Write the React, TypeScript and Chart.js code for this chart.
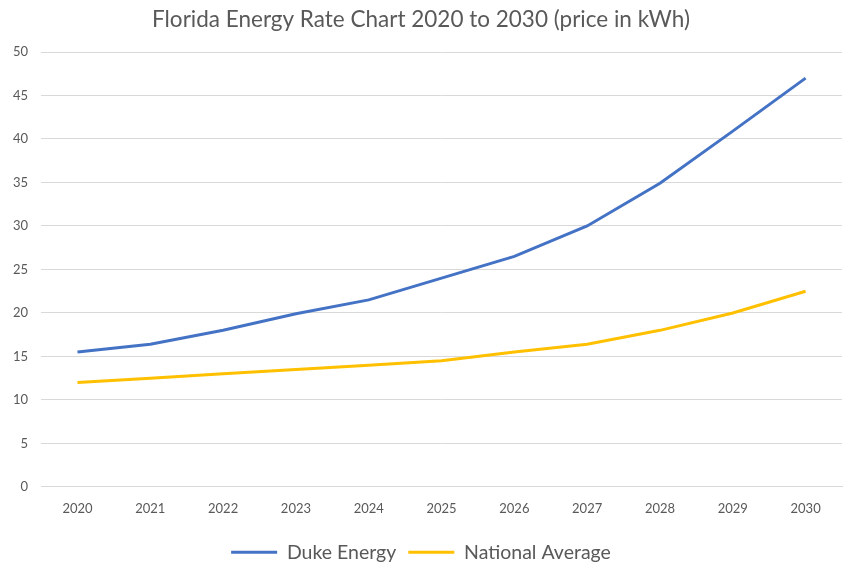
import React, { useEffect, useRef } from "react";
import { Chart, registerables } from "chart.js";

Chart.register(...registerables);

const years = ["2020", "2021", "2022", "2023", "2024", "2025", "2026", "2027", "2028", "2029", "2030"];
const dukeEnergy = [15.5, 16.4, 18, 19.9, 21.5, 24, 26.5, 30, 34.9, 40.9, 47];
const nationalAverage = [12, 12.5, 13, 13.5, 14, 14.5, 15.5, 16.4, 18, 20, 22.5];
const titleText = "Florida Energy Rate Chart 2020 to 2030 (price in kWh)";

const FONT = "Lato, 'Open Sans', sans-serif";
const TEXT = "#595959";

export default function App() {
  const ref = useRef<HTMLCanvasElement>(null);
  useEffect(() => {
    document.body.style.margin = "0";
    const chart = new Chart(ref.current!, {
      type: "line",
      data: {
        labels: years,
        datasets: [
          {
            label: "Duke Energy",
            data: dukeEnergy,
            borderColor: "#4472C4",
            backgroundColor: "#4472C4",
            borderWidth: 3,
            pointRadius: 0,
            tension: 0,
          },
          {
            label: "National Average",
            data: nationalAverage,
            borderColor: "#FFC000",
            backgroundColor: "#FFC000",
            borderWidth: 3,
            pointRadius: 0,
            tension: 0,
          },
        ],
      },
      options: {
        animation: false,
        responsive: false,
        layout: { padding: { left: 0, right: 12, top: 6, bottom: 3 } },
        plugins: {
          title: {
            display: true,
            text: titleText,
            color: TEXT,
            font: { family: FONT, size: 22.5, weight: "normal" },
            padding: { top: 0, bottom: 19 },
          },
          legend: {
            position: "bottom",
            labels: {
              color: TEXT,
              font: { family: FONT, size: 19.5 },
              boxWidth: 46,
              boxHeight: 3,
              padding: 12,
              generateLabels: (c: any) =>
                c.data.datasets.map((ds: any, i: number) => ({
                  text: ds.label,
                  fillStyle: ds.borderColor,
                  strokeStyle: ds.borderColor,
                  lineWidth: 0,
                  hidden: !c.isDatasetVisible(i),
                  datasetIndex: i,
                  fontColor: TEXT,
                })),
            },
          },
          tooltip: { enabled: false },
        },
        scales: {
          x: {
            offset: true,
            grid: { display: false, drawTicks: false },
            border: { display: true, color: "#D9D9D9", width: 1 },
            ticks: { color: TEXT, font: { family: FONT, size: 13 }, padding: 14, maxRotation: 0 },
          },
          y: {
            min: 0,
            max: 50,
            ticks: { stepSize: 5, color: TEXT, font: { family: FONT, size: 13 }, padding: 13 },
            grid: { color: "#D9D9D9", drawTicks: false },
            border: { display: false },
          },
        },
      },
    });
    return () => chart.destroy();
  }, []);
  return <canvas ref={ref} width={854} height={575} style={{ display: "block" }} />;
}
